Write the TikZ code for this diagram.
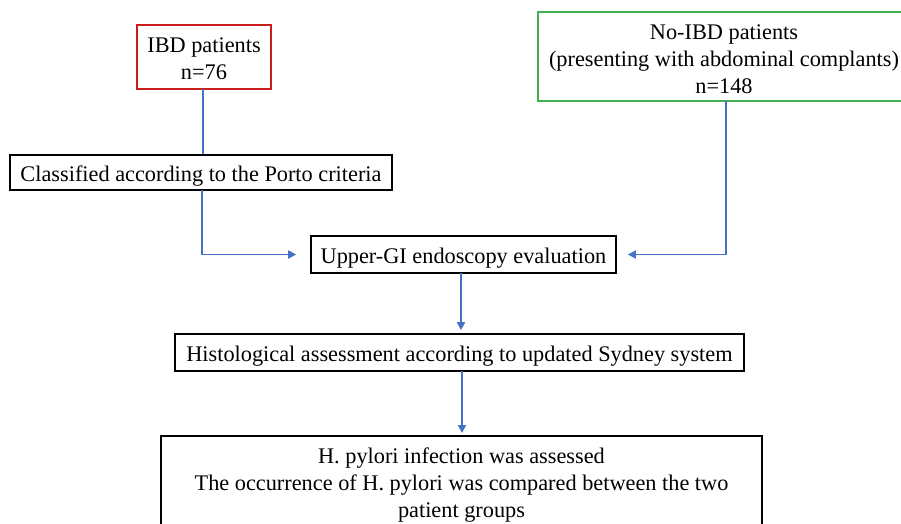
\documentclass[tikz,border=0pt]{standalone}
\usepackage{fontspec}
\setmainfont{Liberation Serif}
\usetikzlibrary{arrows.meta}
\definecolor{lineblue}{RGB}{68,114,196}
\definecolor{boxred}{RGB}{200,30,30}
\definecolor{boxgreen}{RGB}{70,176,80}
\begin{document}
\begin{tikzpicture}[x=1pt,y=-1pt,
  txt/.style={inner sep=0pt,align=center,font=\fontsize{22.3}{27}\selectfont},
  box/.style={txt,draw=black,line width=1.6pt,text height=17pt,text depth=0pt},
  frame/.style={line width=1.6pt},
  conn/.style={draw=lineblue,line width=1.7pt},
  arr/.style={conn,-{Triangle[length=8pt,width=8pt]}}]
\useasboundingbox (0,0) rectangle (901,523);
\clip (0,0) rectangle (901,523);
\fill[white] (0,0) rectangle (901,523);
% IBD box
\draw[frame,draw=boxred] (137,25) rectangle (271,89);
\node[txt] (ibd) at (204,59) {IBD patients\\n=76};
% No-IBD box
\draw[frame,draw=boxgreen] (538,12) rectangle (915,101);
\node[txt] (noibd) at (724,59.5) {No-IBD patients\\(presenting with abdominal complants)\\n=148};
\node[box,minimum width=382pt,minimum height=35pt] (cls) at (201,172.5) {Classified according to the Porto criteria};
\node[box,minimum width=305pt,minimum height=37pt] (upper) at (463.5,254.5) {Upper-GI endoscopy evaluation};
\node[box,minimum width=569pt,minimum height=37pt] (hist) at (459.5,352.5) {Histological assessment according to updated Sydney system};
% result box
\draw[frame] (161,436) rectangle (762,540);
\node[txt] (res) at (461.5,485) {H. pylori infection was assessed\\The occurrence of H. pylori was compared between the two\\patient groups};
\coordinate (ibdbot) at (203,89);
\coordinate (clsbot) at (202,190);
\coordinate (noibdbot) at (726,101);
\coordinate (uppertop) at (461,273);
\coordinate (histbot) at (462,371);
\coordinate (restop) at (462,436);
\draw[conn] (ibdbot) -- (ibdbot |- cls.north);
\draw[arr,shorten >=14pt] (clsbot) |- (upper.west);
\draw[arr,shorten >=11pt] (noibdbot) |- (upper.east);
\draw[arr,shorten >=3pt] (uppertop) -- (uppertop |- hist.north);
\draw[arr,shorten >=3pt] (histbot) -- (restop);
\end{tikzpicture}
\end{document}
